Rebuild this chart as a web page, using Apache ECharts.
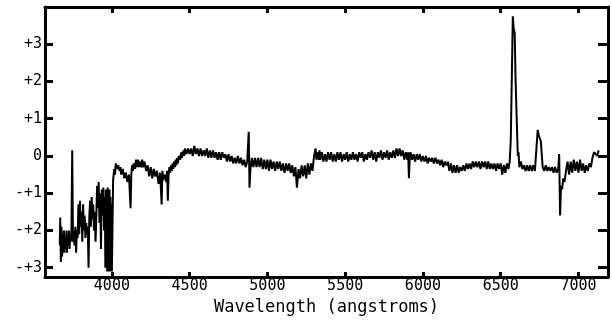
<!DOCTYPE html>
<html>
<head>
<meta charset="utf-8">
<script src="https://cdn.jsdelivr.net/npm/echarts@6/dist/echarts.min.js"></script>
<style>
  html, body { margin: 0; padding: 0; background: #fff; }
  #chart { width: 612px; height: 321px; }
</style>
</head>
<body>
<div id="chart"></div>
<script>
// tick positions and labels
const xTicks = [4000, 4500, 5000, 5500, 6000, 6500, 7000];
const yTicks = [-3, -2, -1, 0, 1, 2, 3];
const yTickLabels = ['-+3', '-+2', '-+1', '0', '+1', '+2', '+3'];

// spectrum, [wavelength, flux]
const specBlue = [
  [3665, -2.4], [3668, -1.65], [3672, -2.85], [3676, -1.9], [3680, -2.7], [3684, -2.1],
  [3688, -2.6], [3692, -2.0], [3696, -2.6], [3700, -2.2], [3704, -2.5], [3708, -2.0],
  [3712, -2.6], [3716, -2.1], [3720, -2.4], [3724, -2.0], [3728, -2.5], [3732, -2.1],
  [3736, -2.3], [3740, -2.0], [3745, 0.15], [3750, -2.3], [3755, -2.0], [3760, -2.4],
  [3765, -1.9], [3770, -2.6], [3775, -2.0], [3780, -2.2], [3785, -1.3], [3790, -2.1],
  [3795, -1.2], [3800, -1.9], [3805, -1.5], [3810, -2.3], [3815, -1.3], [3820, -2.0],
  [3825, -1.6], [3830, -2.2], [3835, -1.8], [3840, -2.1], [3845, -1.9], [3850, -3.0],
  [3855, -1.6], [3860, -1.2], [3865, -1.9], [3870, -1.1], [3875, -1.7], [3880, -1.3],
  [3885, -2.0], [3890, -1.5], [3895, -2.3], [3900, -1.6], [3905, -0.8], [3910, -1.4],
  [3915, -0.7], [3920, -1.8], [3925, -1.0], [3930, -2.5], [3935, -0.9], [3940, -1.6],
  [3945, -0.85], [3950, -2.0], [3955, -1.1], [3958, -3.0], [3961, -0.9], [3964, -2.9],
  [3967, -1.0], [3970, -3.1], [3973, -0.85], [3976, -3.1], [3979, -1.0], [3982, -3.1],
  [3985, -0.9], [3988, -3.1], [3991, -1.1], [3994, -3.1], [3997, -1.3], [4000, -3.1]
];
const specMid = [
  [4008, -0.65], [4015, -0.35], [4020, -0.5], [4025, -0.2], [4030, -0.35], [4040, -0.25],
  [4050, -0.4], [4055, -0.3], [4060, -0.5], [4070, -0.35], [4080, -0.6], [4090, -0.45],
  [4100, -0.7], [4110, -0.5], [4120, -1.4], [4125, -0.5], [4130, -0.25], [4135, -0.4],
  [4140, -0.2], [4150, -0.35], [4155, -0.1], [4160, -0.3], [4170, -0.1], [4175, -0.3],
  [4180, -0.15], [4190, -0.3], [4195, -0.1], [4200, -0.3], [4210, -0.15], [4220, -0.4],
  [4230, -0.25], [4240, -0.55], [4250, -0.3], [4260, -0.6], [4270, -0.35], [4280, -0.55],
  [4290, -0.4], [4300, -0.75], [4310, -0.45], [4320, -1.3], [4325, -0.4], [4330, -0.65],
  [4340, -0.5], [4350, -0.7], [4355, -0.4], [4360, -1.2], [4365, -0.45], [4370, -0.3],
  [4375, -0.45], [4380, -0.25], [4385, -0.4], [4390, -0.2], [4395, -0.35], [4400, -0.15],
  [4405, -0.3], [4410, -0.1], [4415, -0.25], [4420, -0.05], [4425, -0.2], [4430, 0.0],
  [4440, -0.1], [4445, 0.1], [4450, -0.05], [4460, 0.15], [4465, 0.0], [4470, 0.2],
  [4480, 0.05], [4490, 0.2], [4500, 0.05], [4510, 0.2], [4520, 0.0], [4530, 0.27],
  [4540, 0.05], [4550, 0.2], [4560, 0.0], [4570, 0.2], [4580, 0.0], [4590, 0.15],
  [4600, 0.0], [4610, 0.2], [4620, -0.05], [4630, 0.15], [4640, -0.05], [4650, 0.15],
  [4660, -0.05], [4670, 0.1], [4680, -0.1], [4690, 0.1], [4700, -0.1], [4710, 0.1],
  [4720, -0.05], [4730, 0.05], [4740, -0.15], [4750, 0.05], [4760, -0.15], [4770, 0.0],
  [4780, -0.2], [4790, -0.05], [4800, -0.2], [4810, 0.0], [4820, -0.2], [4830, -0.05],
  [4840, -0.25], [4850, -0.1], [4860, -0.3], [4870, -0.15], [4880, 0.65], [4885, -0.85],
  [4890, -0.4], [4900, -0.05], [4910, -0.3], [4920, -0.05], [4930, -0.3], [4940, -0.05],
  [4950, -0.3], [4960, -0.05], [4970, -0.35], [4980, -0.1], [4990, -0.35], [5000, -0.1],
  [5010, -0.4], [5020, -0.1], [5030, -0.35], [5040, -0.15], [5050, -0.4], [5060, -0.15],
  [5070, -0.35], [5080, -0.15], [5090, -0.4], [5100, -0.2], [5110, -0.45], [5120, -0.2],
  [5130, -0.4], [5140, -0.2], [5150, -0.45], [5160, -0.25], [5170, -0.55], [5180, -0.3],
  [5190, -0.85], [5200, -0.35], [5210, -0.6], [5220, -0.25], [5230, -0.55], [5240, -0.25],
  [5250, -0.6], [5260, -0.2], [5270, -0.5], [5280, -0.2], [5290, -0.4], [5300, 0.0],
  [5310, 0.2], [5315, -0.1], [5320, 0.1], [5330, -0.1], [5335, 0.15], [5340, -0.1],
  [5350, 0.1], [5360, -0.15], [5370, 0.05], [5380, -0.15], [5390, 0.1], [5400, -0.1],
  [5410, 0.1], [5420, -0.15], [5430, 0.05], [5440, -0.15], [5450, 0.1], [5460, -0.1],
  [5470, 0.1], [5480, -0.15], [5490, 0.05], [5500, -0.1], [5510, 0.1], [5520, -0.15],
  [5530, 0.05], [5540, -0.1], [5550, 0.1], [5560, -0.1], [5570, 0.05], [5580, -0.15],
  [5590, 0.1], [5600, -0.05], [5610, 0.1], [5620, -0.15], [5630, 0.05], [5640, -0.1],
  [5650, 0.1], [5660, -0.05], [5670, 0.15], [5680, -0.1], [5690, 0.1], [5700, -0.15],
  [5710, 0.1], [5720, -0.05], [5730, 0.15], [5740, -0.1], [5750, 0.1], [5760, -0.05],
  [5770, 0.15], [5780, -0.1], [5790, 0.1], [5800, -0.05], [5810, 0.15], [5820, -0.05],
  [5830, 0.2], [5840, 0.0], [5850, 0.2], [5860, 0.0], [5870, 0.15], [5880, -0.1],
  [5890, 0.1], [5900, -0.1], [5905, 0.1], [5910, -0.6], [5915, -0.05], [5920, 0.1],
  [5930, -0.1], [5940, 0.05], [5950, -0.15], [5960, 0.05], [5970, -0.1], [5980, 0.05],
  [5990, -0.15], [6000, 0.0]
];
const specRed = [
  [6010, -0.15], [6020, 0.0], [6030, -0.2], [6040, -0.05], [6050, -0.15], [6060, -0.05],
  [6070, -0.2], [6080, -0.05], [6090, -0.2], [6100, -0.1], [6110, -0.25], [6120, -0.1],
  [6130, -0.3], [6140, -0.15], [6150, -0.25], [6160, -0.15], [6170, -0.4], [6180, -0.2],
  [6190, -0.45], [6200, -0.25], [6210, -0.45], [6220, -0.25], [6230, -0.45], [6240, -0.3],
  [6250, -0.4], [6260, -0.25], [6270, -0.4], [6280, -0.2], [6290, -0.35], [6300, -0.2],
  [6310, -0.35], [6320, -0.15], [6330, -0.3], [6340, -0.15], [6350, -0.3], [6360, -0.15],
  [6370, -0.35], [6380, -0.15], [6390, -0.3], [6400, -0.15], [6410, -0.35], [6420, -0.15],
  [6430, -0.35], [6440, -0.2], [6450, -0.35], [6460, -0.2], [6470, -0.4], [6480, -0.2],
  [6490, -0.35], [6500, -0.2], [6510, -0.5], [6520, -0.25], [6530, -0.45], [6540, -0.2],
  [6550, -0.35], [6558, -0.15], [6565, 0.45], [6572, 0.4], [6578, 3.75], [6584, 3.4],
  [6590, 3.3], [6596, 2.0], [6603, 1.95], [6610, 0.0], [6615, 0.1], [6620, -0.3],
  [6630, -0.15], [6640, -0.35], [6650, -0.25], [6660, -0.4], [6670, -0.25], [6680, -0.4],
  [6690, -0.25], [6700, -0.4], [6710, -0.25], [6720, -0.4], [6730, -0.35], [6738, 0.7],
  [6745, 0.55], [6752, 0.6], [6758, 0.4], [6765, 0.45], [6770, -0.3], [6780, -0.4],
  [6790, -0.25], [6800, -0.4], [6810, -0.3], [6820, -0.4], [6830, -0.3], [6840, -0.45],
  [6850, -0.3], [6860, -0.45], [6870, -0.35], [6876, 0.05], [6882, -1.6], [6888, -0.8],
  [6895, -0.9], [6902, -0.6], [6910, -0.7], [6920, -0.4], [6930, -0.15], [6940, -0.5],
  [6950, -0.15], [6960, -0.45], [6970, -0.1], [6980, -0.4], [6990, -0.15], [7000, -0.45],
  [7010, -0.1], [7020, -0.4], [7030, -0.2], [7040, -0.45], [7050, -0.25], [7060, -0.4],
  [7070, -0.2], [7080, -0.3], [7090, -0.05], [7100, 0.1], [7110, 0.05], [7120, 0.0],
  [7130, 0.15]
];

const spectrum = specBlue.concat(specMid, specRed);

const fontMono = '"DejaVu Sans Mono", monospace';
const axisLine = { show: true, onZero: false, lineStyle: { color: '#000', width: 3 } };

let myChart = echarts.init(document.getElementById('chart'));
myChart.setOption({
  animation: false,
  backgroundColor: '#fff',
  grid: { left: 45, right: 4, top: 7, bottom: 44, outerBoundsMode: 'none' },
  xAxis: [
    {
      type: 'value', min: 3570, max: 7190, position: 'bottom',
      name: 'Wavelength (angstroms)', nameLocation: 'middle', nameGap: 20,
      nameTextStyle: { color: '#000', fontFamily: fontMono, fontSize: 17 },
      axisLine: axisLine,
      axisTick: { show: true, inside: true, length: 5, customValues: xTicks,
        lineStyle: { color: '#000', width: 3 } },
      axisLabel: { show: true, customValues: xTicks, margin: 2, color: '#000',
        fontFamily: fontMono, fontSize: 15, formatter: v => String(v) },
      splitLine: { show: false }
    },
    {
      type: 'value', min: 3570, max: 7190, position: 'top',
      axisLine: axisLine,
      axisTick: { show: true, inside: true, length: 6, customValues: xTicks,
        lineStyle: { color: '#000', width: 3 } },
      axisLabel: { show: false },
      splitLine: { show: false }
    }
  ],
  yAxis: [
    {
      type: 'value', min: -3.25, max: 4.0, position: 'left',
      axisLine: axisLine,
      axisTick: { show: true, inside: true, length: 8, customValues: yTicks,
        lineStyle: { color: '#000', width: 3 } },
      axisLabel: { show: true, customValues: yTicks, margin: 3, color: '#000',
        fontFamily: fontMono, fontSize: 15,
        formatter: v => yTickLabels[yTicks.indexOf(Math.round(v))] },
      splitLine: { show: false }
    },
    {
      type: 'value', min: -3.25, max: 4.0, position: 'right',
      axisLine: axisLine,
      axisTick: { show: true, inside: true, length: 10, customValues: yTicks,
        lineStyle: { color: '#000', width: 3 } },
      axisLabel: { show: false },
      splitLine: { show: false }
    }
  ],
  series: [
    {
      type: 'line',
      data: spectrum,
      showSymbol: false,
      symbol: 'none',
      lineStyle: { color: '#000', width: 2 },
      z: 1
    }
  ]
});
</script>
</body>
</html>
